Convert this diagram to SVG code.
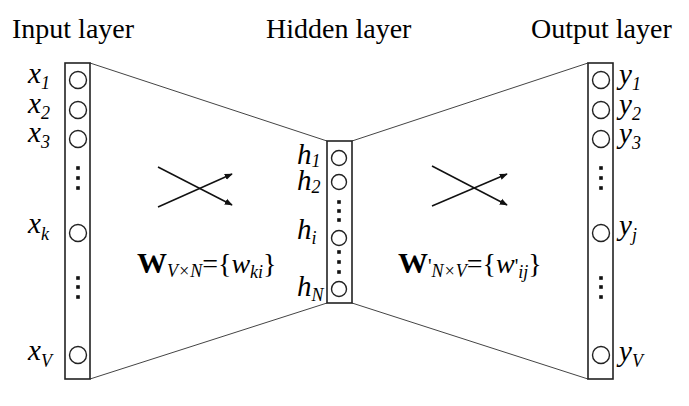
<svg xmlns="http://www.w3.org/2000/svg" width="689" height="406" viewBox="0 0 689 406">
<defs>
<style>
.t{font-family:"Liberation Serif","Times New Roman",serif;font-size:28px;fill:#000}
.v{font-family:"Liberation Serif","Times New Roman",serif;font-style:italic;font-size:29px;fill:#000}
.s{font-size:18px;font-style:italic}
.col{fill:#fff;stroke:#222;stroke-width:1.6}
.n{fill:#fff;stroke:#222;stroke-width:1.4}
.d{fill:#111}
.c{stroke:#444;stroke-width:1;fill:none}
.a{stroke:#111;stroke-width:1.5;fill:none;marker-end:url(#ah)}
</style>
<marker id="ah" viewBox="0 0 10 10" refX="9" refY="5" markerWidth="8" markerHeight="8" orient="auto" markerUnits="userSpaceOnUse"><path d="M0,1 L10,5 L0,9 Z" fill="#111"/></marker>
</defs>
<rect width="689" height="406" fill="#fff"/>
<g id="connectors">
<line class="c" x1="90" y1="63" x2="327" y2="141"/>
<line class="c" x1="90" y1="379" x2="327" y2="303"/>
<line class="c" x1="352" y1="141" x2="588" y2="63"/>
<line class="c" x1="352" y1="303" x2="588" y2="379"/>
<line class="a" x1="158" y1="167" x2="232" y2="205"/>
<line class="a" x1="158" y1="207" x2="232" y2="174"/>
<line class="a" x1="432" y1="166" x2="507" y2="205"/>
<line class="a" x1="432" y1="206" x2="507" y2="174"/>
</g>
<g id="titles">
<text class="t" x="12" y="38">Input layer</text>
<text class="t" x="266" y="38">Hidden layer</text>
<text class="t" x="531" y="38">Output layer</text>
</g>
<g id="input-layer">
<rect class="col" x="65" y="63" width="25" height="316"/>
<circle class="n" cx="78" cy="80" r="8.5"/>
<circle class="n" cx="78" cy="110" r="8.5"/>
<circle class="n" cx="78" cy="139" r="8.5"/>
<circle class="n" cx="78" cy="233" r="8.5"/>
<circle class="n" cx="78" cy="355" r="8.5"/>
<rect class="d" x="76.2" y="166.2" width="3.6" height="3.6"/>
<rect class="d" x="76.2" y="176.2" width="3.6" height="3.6"/>
<rect class="d" x="76.2" y="186.2" width="3.6" height="3.6"/>
<rect class="d" x="76.2" y="276.2" width="3.6" height="3.6"/>
<rect class="d" x="76.2" y="285.2" width="3.6" height="3.6"/>
<rect class="d" x="76.2" y="295.2" width="3.6" height="3.6"/>
<text class="v" x="28" y="83">x<tspan class="s" dy="6">1</tspan></text>
<text class="v" x="28" y="113">x<tspan class="s" dy="6">2</tspan></text>
<text class="v" x="28" y="142">x<tspan class="s" dy="6">3</tspan></text>
<text class="v" x="28" y="233">x<tspan class="s" dy="7">k</tspan></text>
<text class="v" x="28" y="360">x<tspan class="s" dy="7">V</tspan></text>
</g>
<g id="hidden-layer">
<rect class="col" x="327" y="141" width="25" height="162"/>
<circle class="n" cx="339" cy="158" r="7.5"/>
<circle class="n" cx="339" cy="182" r="7.5"/>
<circle class="n" cx="339" cy="238" r="7.5"/>
<circle class="n" cx="339" cy="289" r="7.5"/>
<rect class="d" x="337.2" y="200.2" width="3.6" height="3.6"/>
<rect class="d" x="337.2" y="209.2" width="3.6" height="3.6"/>
<rect class="d" x="337.2" y="218.2" width="3.6" height="3.6"/>
<rect class="d" x="337.2" y="250.2" width="3.6" height="3.6"/>
<rect class="d" x="337.2" y="260.2" width="3.6" height="3.6"/>
<rect class="d" x="337.2" y="270.2" width="3.6" height="3.6"/>
<text class="v" x="297" y="164" font-size="27">h<tspan class="s" dy="3">1</tspan></text>
<text class="v" x="297" y="190" font-size="27">h<tspan class="s" dy="3">2</tspan></text>
<text class="v" x="297" y="239" font-size="27">h<tspan class="s" dy="5">i</tspan></text>
<text class="v" x="297" y="296" font-size="27">h<tspan class="s" dy="5">N</tspan></text>
</g>
<g id="output-layer">
<rect class="col" x="588" y="63" width="25" height="316"/>
<circle class="n" cx="601" cy="80" r="8.5"/>
<circle class="n" cx="601" cy="110" r="8.5"/>
<circle class="n" cx="601" cy="139" r="8.5"/>
<circle class="n" cx="601" cy="233" r="8.5"/>
<circle class="n" cx="601" cy="355" r="8.5"/>
<rect class="d" x="599.2" y="166.2" width="3.6" height="3.6"/>
<rect class="d" x="599.2" y="176.2" width="3.6" height="3.6"/>
<rect class="d" x="599.2" y="186.2" width="3.6" height="3.6"/>
<rect class="d" x="599.2" y="276.2" width="3.6" height="3.6"/>
<rect class="d" x="599.2" y="285.2" width="3.6" height="3.6"/>
<rect class="d" x="599.2" y="295.2" width="3.6" height="3.6"/>
<text class="v" x="619" y="84">y<tspan class="s" dy="6">1</tspan></text>
<text class="v" x="619" y="114">y<tspan class="s" dy="6">2</tspan></text>
<text class="v" x="619" y="143">y<tspan class="s" dy="6">3</tspan></text>
<text class="v" x="619" y="235">y<tspan class="s" dy="6">j</tspan></text>
<text class="v" x="619" y="361">y<tspan class="s" dy="6">V</tspan></text>
</g>
<g id="weights-in">
<text class="t" x="137" y="273"><tspan font-weight="bold" font-size="30">W</tspan><tspan class="s" dy="4">V×N</tspan><tspan dy="-4">={</tspan><tspan font-style="italic">w</tspan><tspan class="s" dy="5">ki</tspan><tspan dy="-5">}</tspan></text>
</g>
<g id="weights-out">
<text class="t" x="398" y="273"><tspan font-weight="bold" font-size="30">W</tspan><tspan font-size="20">'</tspan><tspan class="s" dy="4">N×V</tspan><tspan dy="-4">={</tspan><tspan font-style="italic">w</tspan><tspan font-size="20">'</tspan><tspan class="s" dy="5">ij</tspan><tspan dy="-5">}</tspan></text>
</g>
</svg>
